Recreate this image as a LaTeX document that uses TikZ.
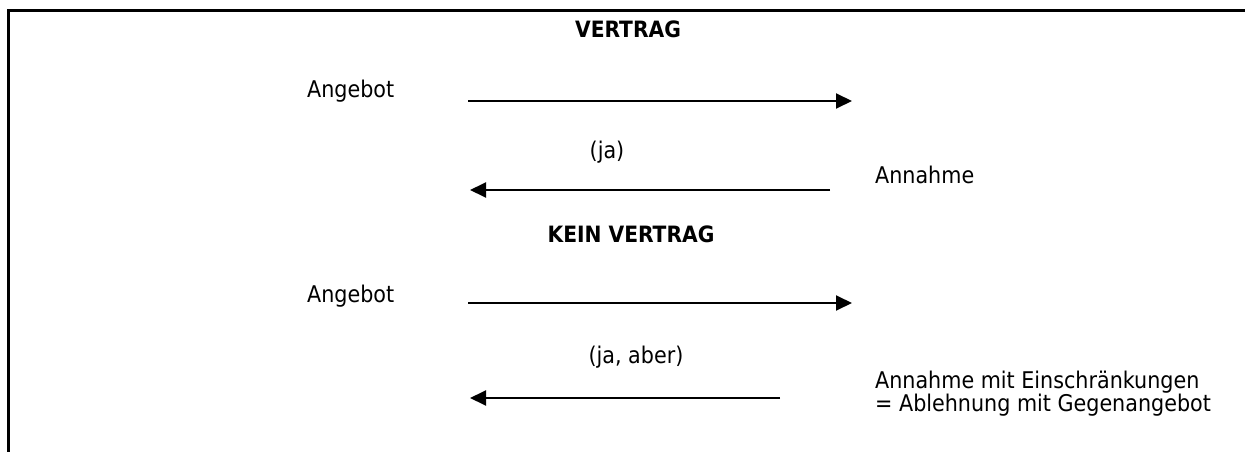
\documentclass[tikz,border=0pt]{standalone}
\usepackage{fontspec}
\setmainfont{DejaVu Sans Condensed}
\usetikzlibrary{arrows.meta}
\tikzset{
  frameline/.style={line width=3pt},
  msg/.style={line width=1.9pt,-{Triangle[length=16pt,width=15pt]}},
  lbl/.style={inner sep=0pt,font=\fontsize{23}{27}\selectfont},
  head/.style={inner sep=0pt,font=\fontsize{22.5}{27}\selectfont\bfseries}
}
\begin{document}
\begin{tikzpicture}[x=1pt,y=-1pt]
\useasboundingbox (0,0) rectangle (1245,452);
% frame
\coordinate (fbl) at (8,452);
\coordinate (ftl) at (8,11);
\coordinate (ftr) at (1245,11);
\draw[frameline] (fbl) -- (ftl) -- (ftr);
% contract
\node[head,anchor=base] (vt) at (628,38) {VERTRAG};
\node[lbl,anchor=base west] (ang1) at (307,97) {Angebot};
\coordinate (a1s) at (468,101);
\coordinate (a1e) at (852,101);
\draw[msg] (a1s) -- (a1e);
\node[lbl,anchor=base] (ja) at (607,158) {(ja)};
\node[lbl,anchor=base west] (ann1) at (875,183) {Annahme};
\coordinate (a2s) at (830,190);
\coordinate (a2e) at (470,190);
\draw[msg] (a2s) -- (a2e);
% no contract
\node[head,anchor=base] (kvt) at (631,242) {KEIN VERTRAG};
\node[lbl,anchor=base west] (ang2) at (307,302) {Angebot};
\coordinate (a3s) at (468,303);
\coordinate (a3e) at (852,303);
\draw[msg] (a3s) -- (a3e);
\node[lbl,anchor=base] (jaaber) at (636,363) {(ja, aber)};
\node[lbl,anchor=base west] (ann2) at (875,388) {Annahme mit Einschränkungen};
\node[lbl,anchor=base west] (abl) at (875,411) {= Ablehnung mit Gegenangebot};
\coordinate (a4s) at (780,398);
\coordinate (a4e) at (470,398);
\draw[msg] (a4s) -- (a4e);
\end{tikzpicture}
\end{document}
